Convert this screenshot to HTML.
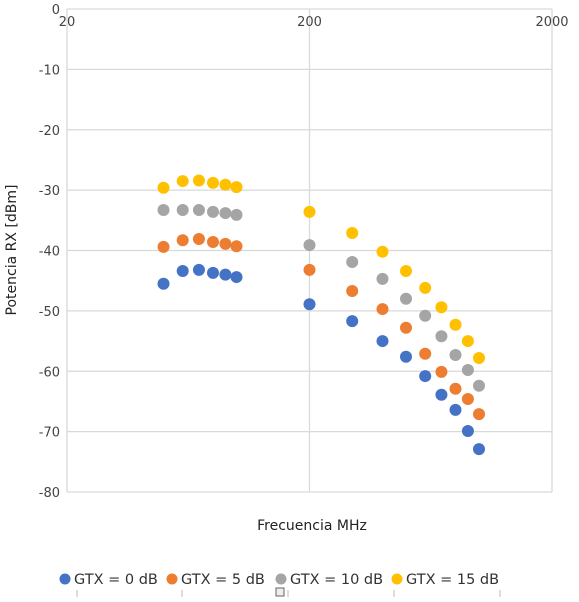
<!DOCTYPE html>
<html><head><meta charset="utf-8"><style>
body{margin:0;background:#fff;font-family:"Liberation Sans","DejaVu Sans",sans-serif;}
svg text{font-family:"DejaVu Sans","Liberation Sans",sans-serif;}
</style></head><body>
<svg id="chart" width="579" height="597" xmlns="http://www.w3.org/2000/svg">
<g id="grid"></g>
<g id="marks"></g>
<text x="312" y="530" font-size="14" text-anchor="middle" fill="#222">Frecuencia MHz</text>
<text transform="translate(16,250) rotate(-90)" font-size="14" text-anchor="middle" fill="#222">Potencia RX [dBm]</text>
<g id="legend"></g>
<g stroke="#bbb">
<line x1="77" y1="590" x2="77" y2="597"/><line x1="182" y1="590" x2="182" y2="597"/><line x1="288" y1="590" x2="288" y2="597"/><line x1="394" y1="590" x2="394" y2="597"/><line x1="500" y1="590" x2="500" y2="597"/>
<rect x="276" y="588" width="8" height="8" fill="#eee" stroke="#666"/>
</g>
</svg>
<script>
const freqs=[50,60,70,80,90,100,200,300,400,500,600,700,800,900,1000];
const s0=[-45.5,-43.4,-43.2,-43.7,-44.0,-44.4,-48.9,-51.7,-55.0,-57.6,-60.8,-63.9,-66.4,-69.9,-72.9];
const s5=[-39.4,-38.3,-38.1,-38.6,-38.9,-39.3,-43.2,-46.7,-49.7,-52.8,-57.1,-60.1,-62.9,-64.6,-67.1];
const s10=[-33.3,-33.3,-33.3,-33.6,-33.8,-34.1,-39.1,-41.9,-44.7,-48.0,-50.8,-54.2,-57.3,-59.8,-62.4];
const s15=[-29.6,-28.5,-28.4,-28.8,-29.1,-29.5,-33.6,-37.1,-40.2,-43.4,-46.2,-49.4,-52.3,-55.0,-57.8];
const seriesNames=["GTX = 0 dB","GTX = 5 dB","GTX = 10 dB","GTX = 15 dB"];
const yTicks=[0,-10,-20,-30,-40,-50,-60,-70,-80];
const xTicks=[20,200,2000];
const NS="http://www.w3.org/2000/svg";
const X0=67,X1=552,Y0=9,Y1=492;
function xs(f){return X0+(Math.log10(f)-Math.log10(20))/(Math.log10(2000)-Math.log10(20))*(X1-X0);}
function ys(v){return Y0+(0-v)/80*(Y1-Y0);}
function mk(t,a,p){const e=document.createElementNS(NS,t);for(const k in a)e.setAttribute(k,a[k]);p.appendChild(e);return e;}
const grid=document.getElementById('grid');
yTicks.forEach(v=>{
 const l=mk('line',{x1:X0,x2:X1,y1:ys(v),y2:ys(v),stroke:'#d9d9d9','stroke-width':1.3},grid);
 
 
 const t=mk('text',{x:60,y:ys(v)+5,'font-size':13,'text-anchor':'end',fill:'#444'},grid);
 t.textContent=v;
 
 
});
xTicks.forEach(f=>{
 const l=mk('line',{x1:xs(f),x2:xs(f),y1:Y0,y2:Y1,stroke:'#d9d9d9','stroke-width':1.3},grid);
 
 
 const t=mk('text',{x:xs(f),y:26,'font-size':13,'text-anchor':'middle',fill:'#444'},grid);
 t.textContent=f;
 
 
});
const colors=['#4472c4','#ed7d31','#a5a5a5','#ffc000'];
const data=[s0,s5,s10,s15];
const marks=document.getElementById('marks');
data.forEach((s,i)=>{s.forEach((v,j)=>{
 const c=mk('circle',{cx:xs(freqs[j]),cy:ys(v),r:6,fill:colors[i]},marks);
 
 
});});
const leg=document.getElementById('legend');
const lx=[65,172,281,397];
seriesNames.forEach((n,i)=>{
 const c=mk('circle',{cx:lx[i],cy:579,r:5.5,fill:colors[i]},leg);
 
 
 const t=mk('text',{x:lx[i]+9,y:584,'font-size':14.5,fill:'#333'},leg);
 t.textContent=n;
 
 
});
</script>
</body></html>
